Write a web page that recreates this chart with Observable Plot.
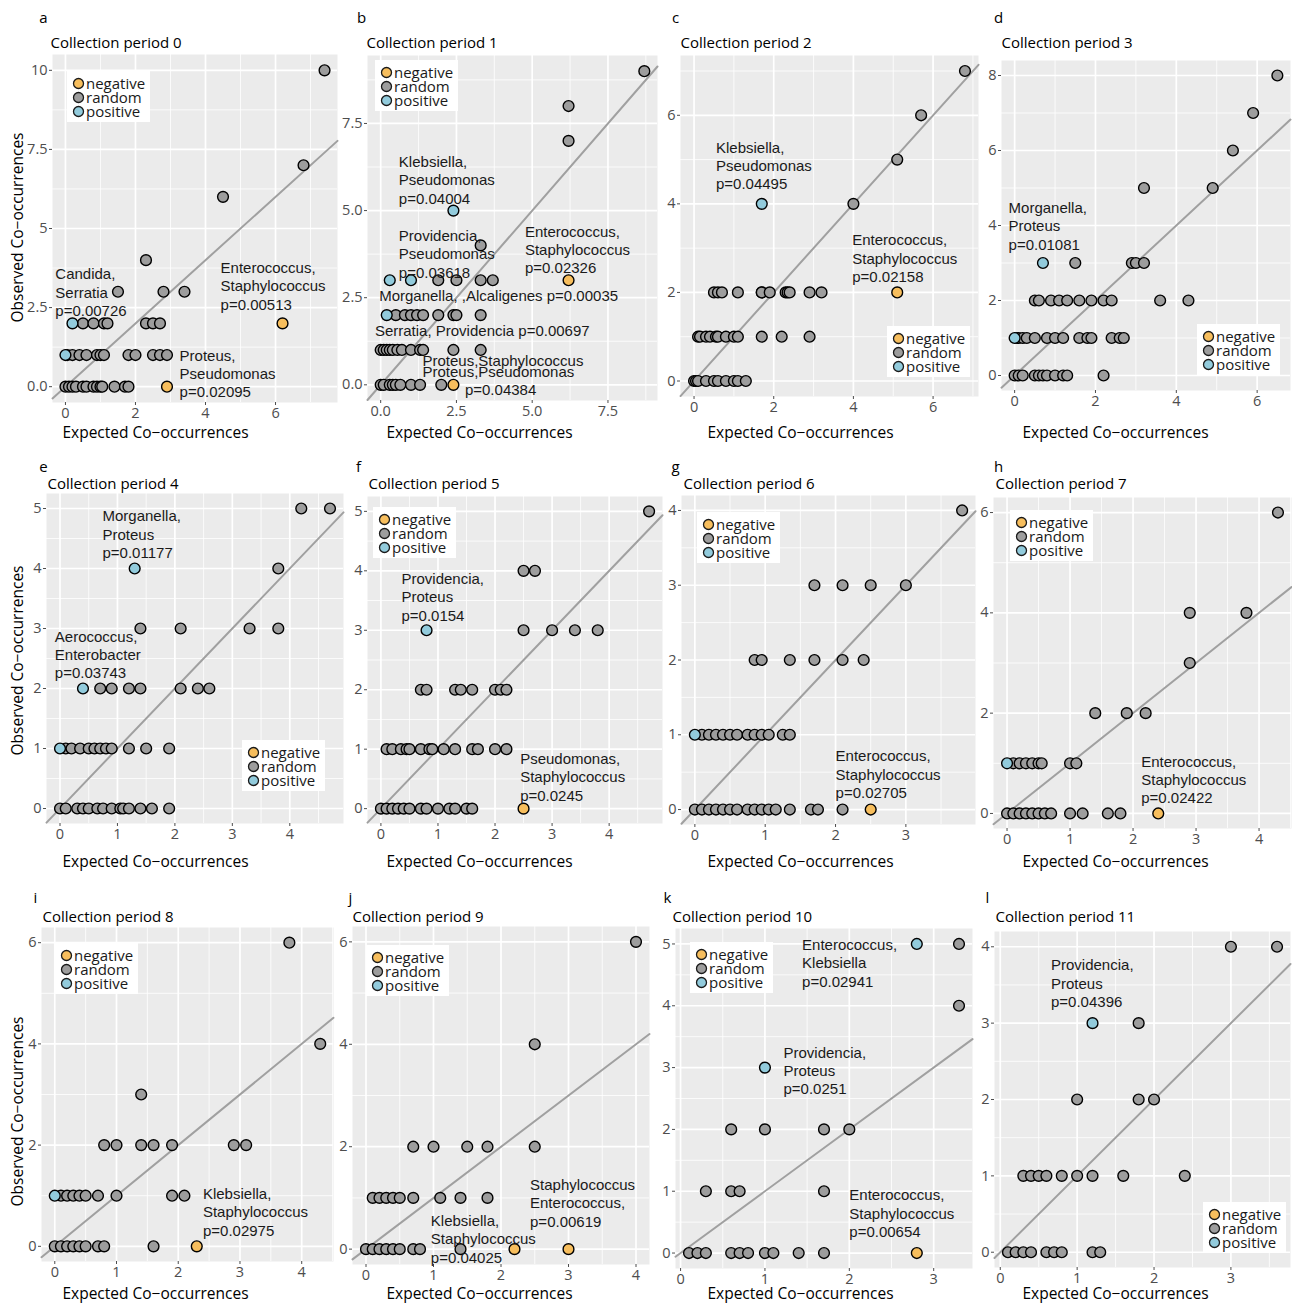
<!DOCTYPE html>
<html>
<head>
<meta charset="utf-8">
<script src="https://cdn.jsdelivr.net/npm/d3@7"></script>
<script src="https://cdn.jsdelivr.net/npm/@observablehq/plot@0.6"></script>
<style>
  html, body { margin: 0; padding: 0; background: #fff; }
  #chart { position: relative; width: 1292px; height: 1305px; overflow: hidden; font-family: "Open Sans", sans-serif; }
  .cell { position: absolute; }
  .cell svg { overflow: visible; }
  .key { position: absolute; background: #fff; box-sizing: border-box; padding-top: 5px;
         width: 83px; height: 51px; font-size: 15px; line-height: 14px; color: #1a1a1a; }
  .key div { height: 14px; display: flex; align-items: center; white-space: nowrap; }
  .key svg { margin-left: 5px; margin-right: 1px; flex: none; }
</style>
</head>
<body>
<div id="chart"></div>
<script>
// Observed vs expected co-occurrences of genus pairs, one panel per collection period.
// Each group: [observed, association (n = negative, r = random, p = positive), expected values]
const period0 = [
  [10, "r", [7.4]], [7, "r", [6.8]], [6, "r", [4.5]], [4, "r", [2.3]],
  [3, "r", [1.5, 2.8, 3.4]],
  [2, "r", [0.5, 0.8, 1.1, 1.2, 2.3, 2.5, 2.7]], [2, "p", [0.2]], [2, "n", [6.2]],
  [1, "r", [0.05, 0.2, 0.4, 0.6, 0.9, 1.0, 1.1, 1.8, 2.0, 2.5, 2.7, 2.9]], [1, "p", [0]],
  [0, "r", [0, 0.1, 0.2, 0.3, 0.5, 0.6, 0.8, 0.9, 1.0, 1.05, 1.4, 1.7, 1.8]], [0, "n", [2.9]]
];
const period1 = [
  [9, "r", [8.7]], [8, "r", [6.2]], [7, "r", [6.2]], [5, "p", [2.4]], [4, "r", [3.3]],
  [3, "r", [1.9, 2.5, 3.3, 3.7]], [3, "p", [0.3, 1.0]], [3, "n", [6.2]],
  [2, "r", [0.5, 0.8, 1.0, 1.2, 1.4, 1.9, 2.4, 2.5, 3.3]], [2, "p", [0.2]],
  [1, "r", [0, 0.1, 0.2, 0.3, 0.4, 0.55, 0.7, 1.0, 1.3, 1.4, 2.4, 3.3]],
  [0, "r", [0, 0.1, 0.3, 0.4, 0.5, 0.65, 1.0, 1.3, 2.0]], [0, "n", [2.4]]
];
const period2 = [
  [7, "r", [6.8]], [6, "r", [5.7]], [5, "r", [5.1]], [4, "r", [4.0]], [4, "p", [1.7]],
  [2, "r", [0.5, 0.6, 0.7, 1.1, 1.7, 1.7, 1.9, 2.3, 2.35, 2.4, 2.9, 3.2]], [2, "n", [5.1]],
  [1, "r", [0.1, 0.15, 0.3, 0.4, 0.55, 0.6, 0.8, 1.0, 1.1, 1.7, 2.2, 2.9]],
  [0, "r", [0, 0.05, 0.1, 0.3, 0.5, 0.6, 0.8, 1.0, 1.1, 1.3]]
];
const period3 = [
  [8, "r", [6.5]], [7, "r", [5.9]], [6, "r", [5.4]], [5, "r", [3.2, 4.9]],
  [3, "r", [1.5, 2.9, 3.0, 3.2]], [3, "p", [0.7]],
  [2, "r", [0.5, 0.6, 0.9, 1.1, 1.3, 1.6, 1.9, 2.2, 2.4, 3.6, 4.3]],
  [1, "r", [0.05, 0.1, 0.2, 0.3, 0.5, 0.8, 1.0, 1.2, 1.6, 1.8, 1.9, 2.4, 2.6, 2.7]], [1, "p", [0]],
  [0, "r", [0, 0.1, 0.2, 0.5, 0.6, 0.7, 0.8, 1.0, 1.2, 1.3, 2.2]]
];
const period4 = [
  [5, "r", [4.2, 4.7]], [4, "r", [3.8]], [4, "p", [1.3]],
  [3, "r", [1.4, 2.1, 3.3, 3.8]],
  [2, "r", [0.7, 0.9, 1.2, 1.4, 2.1, 2.4, 2.6]], [2, "p", [0.4]],
  [1, "r", [0.1, 0.2, 0.35, 0.5, 0.6, 0.7, 0.8, 0.9, 1.2, 1.5, 1.9]], [1, "p", [0]],
  [0, "r", [0, 0.1, 0.3, 0.4, 0.5, 0.65, 0.75, 0.9, 1.05, 1.1, 1.2, 1.4, 1.6, 1.9]]
];
const period5 = [
  [5, "r", [4.7]], [4, "r", [2.5, 2.7]],
  [3, "r", [2.5, 3.0, 3.4, 3.8]], [3, "p", [0.8]],
  [2, "r", [0.7, 0.8, 1.3, 1.4, 1.6, 2.0, 2.1, 2.2]],
  [1, "r", [0.1, 0.2, 0.35, 0.45, 0.5, 0.7, 0.85, 0.9, 1.1, 1.3, 1.6, 1.7, 2.0, 2.2]],
  [0, "r", [0, 0.1, 0.2, 0.3, 0.4, 0.5, 0.7, 0.8, 1.0, 1.2, 1.3, 1.5, 1.6]], [0, "n", [2.5]]
];
const period6 = [
  [4, "r", [3.8]], [3, "r", [1.7, 2.1, 2.5, 3.0]],
  [2, "r", [0.85, 0.95, 1.35, 1.7, 2.1, 2.4]],
  [1, "r", [0.1, 0.2, 0.3, 0.4, 0.5, 0.6, 0.75, 0.85, 0.95, 1.05, 1.25, 1.35]], [1, "p", [0]],
  [0, "r", [0, 0.1, 0.2, 0.3, 0.4, 0.5, 0.6, 0.75, 0.85, 0.95, 1.05, 1.15, 1.35, 1.65, 1.75, 2.1]], [0, "n", [2.5]]
];
const period7 = [
  [6, "r", [4.3]], [4, "r", [2.9, 3.8]], [3, "r", [2.9]], [2, "r", [1.4, 1.9, 2.2]],
  [1, "r", [0.1, 0.2, 0.3, 0.4, 0.5, 0.55, 1.0, 1.1]], [1, "p", [0]],
  [0, "r", [0, 0.1, 0.2, 0.3, 0.4, 0.5, 0.6, 0.7, 1.0, 1.2, 1.6, 1.8]], [0, "n", [2.4]]
];
const period8 = [
  [6, "r", [3.8]], [4, "r", [4.3]], [3, "r", [1.4]],
  [2, "r", [0.8, 1.0, 1.4, 1.6, 1.9, 2.9, 3.1]],
  [1, "r", [0.1, 0.2, 0.3, 0.4, 0.5, 0.7, 1.0, 1.9, 2.1]], [1, "p", [0]],
  [0, "r", [0, 0.1, 0.2, 0.3, 0.4, 0.5, 0.7, 0.8, 1.6]], [0, "n", [2.3]]
];
const period9 = [
  [6, "r", [4.0]], [4, "r", [2.5]], [2, "r", [0.7, 1.0, 1.5, 1.8, 2.5]],
  [1, "r", [0.1, 0.2, 0.3, 0.4, 0.5, 0.7, 1.1, 1.4, 1.8]],
  [0, "r", [0, 0.1, 0.2, 0.3, 0.4, 0.5, 0.7, 0.8, 1.4]], [0, "n", [2.2, 3.0]]
];
const period10 = [
  [5, "r", [3.3]], [5, "p", [2.8]], [4, "r", [3.3]], [3, "p", [1.0]],
  [2, "r", [0.6, 1.0, 1.7, 2.0]], [1, "r", [0.3, 0.6, 0.7, 1.7]],
  [0, "r", [0.1, 0.2, 0.3, 0.6, 0.7, 0.8, 1.0, 1.1, 1.4, 1.7]], [0, "n", [2.8]]
];
const period11 = [
  [4, "r", [3.0, 3.6]], [3, "r", [1.8]], [3, "p", [1.2]], [2, "r", [1.0, 1.8, 2.0]],
  [1, "r", [0.3, 0.4, 0.5, 0.6, 0.8, 1.0, 1.2, 1.6, 2.4]],
  [0, "r", [0.1, 0.2, 0.3, 0.4, 0.6, 0.7, 0.8, 1.2, 1.3]]
];

// Labelled significant pairs: [expected, observed (middle of the label), text]
const notes0 = [
  [-0.29, 3.0, "Candida,\nSerratia\np=0.00726"],
  [4.43, 3.2, "Enterococcus,\nStaphylococcus\np=0.00513"],
  [3.26, 0.43, "Proteus,\nPseudomonas\np=0.02095"]
];
const notes1 = [
  [0.6, 5.89, "Klebsiella,\nPseudomonas\np=0.04004"],
  [0.6, 3.77, "Providencia,\nPseudomonas\np=0.03618"],
  [4.76, 3.89, "Enterococcus,\nStaphylococcus\np=0.02326"],
  [-0.05, 2.57, "Morganella, ,Alcaligenes p=0.00035"],
  [-0.19, 1.57, "Serratia, Providencia p=0.00697"],
  [1.38, 0.71, "Proteus,Staphylococcus"],
  [1.38, 0.38, "Proteus,Pseudomonas"],
  [2.78, -0.12, "p=0.04384"]
];
const notes2 = [
  [0.55, 4.87, "Klebsiella,\nPseudomonas\np=0.04495"],
  [3.97, 2.78, "Enterococcus,\nStaphylococcus\np=0.02158"]
];
const notes3 = [[-0.15, 4.0, "Morganella,\nProteus\np=0.01081"]];
const notes4 = [
  [0.74, 4.58, "Morganella,\nProteus\np=0.01177"],
  [-0.09, 2.57, "Aerococcus,\nEnterobacter\np=0.03743"]
];
const notes5 = [
  [0.36, 3.57, "Providencia,\nProteus\np=0.0154"],
  [2.44, 0.54, "Pseudomonas,\nStaphylococcus\np=0.0245"]
];
const notes6 = [[2.0, 0.48, "Enterococcus,\nStaphylococcus\np=0.02705"]];
const notes7 = [[2.13, 0.68, "Enterococcus,\nStaphylococcus\np=0.02422"]];
const notes8 = [[2.4, 0.69, "Klebsiella,\nStaphylococcus\np=0.02975"]];
const notes9 = [
  [2.43, 0.91, "Staphylococcus\nEnterococcus,\np=0.00619"],
  [0.96, 0.21, "Klebsiella,\nStaphylococcus\np=0.04025"]
];
const notes10 = [
  [1.44, 4.7, "Enterococcus,\nKlebsiella\np=0.02941"],
  [1.22, 2.96, "Providencia,\nProteus\np=0.0251"],
  [2.0, 0.65, "Enterococcus,\nStaphylococcus\np=0.00654"]
];
const notes11 = [[0.66, 3.53, "Providencia,\nProteus\np=0.04396"]];

// Axis ticks and their labels
const ticksHalf = [0, 2.5, 5, 7.5];
const ticksHalfLabels = ["0.0", "2.5", "5.0", "7.5"];
const ticks0Y = [0, 2.5, 5, 7.5, 10];
const ticks0YLabels = ["0.0", "2.5", "5", "7.5", "10"];
const ticksEven6 = [0, 2, 4, 6];
const ticksEven8 = [0, 2, 4, 6, 8];
const ticksUnit3 = [0, 1, 2, 3];
const ticksUnit4 = [0, 1, 2, 3, 4];
const ticksUnit5 = [0, 1, 2, 3, 4, 5];

const kinds = ["negative", "random", "positive"];
const kindColors = ["#f7be5d", "#9d9d9d", "#92cbdc"];
const kindCode = {n: "negative", r: "random", p: "positive"};
const drawOrder = {random: 0, negative: 1, positive: 2};

const xTitle = "Expected Co\u2212occurrences";
const yTitle = "Observed Co\u2212occurrences";

// Page layout: rows and columns of panels
const rowTop = [4, 452, 884];
const letterY = [18, 467, 898];
const titleY = [43, 484, 917];
const xTitleY = [433, 862, 1294];
const xTitleX = [155, 479, 800, 1115];

const panels = [
  {letter: "a", title: "Collection period 0", data: period0, notes: notes0, xt: ticksEven6, yt: ticks0Y, ytl: ticks0YLabels,
   box: [52, 54, 337, 402], row: 0, col: 0, letterX: 43, titleX: 50, legend: [67, 71], yTitleY: 227},
  {letter: "b", title: "Collection period 1", data: period1, notes: notes1, xt: ticksHalf, xtl: ticksHalfLabels, yt: ticksHalf, ytl: ticksHalfLabels,
   box: [367, 55, 657, 400], row: 0, col: 1, letterX: 361, titleX: 366, legend: [375, 60]},
  {letter: "c", title: "Collection period 2", data: period2, notes: notes2, xt: ticksEven6, yt: ticksEven6,
   box: [680, 55, 978, 396], row: 0, col: 2, letterX: 675, titleX: 680, legend: [887, 326]},
  {letter: "d", title: "Collection period 3", data: period3, notes: notes3, xt: ticksEven6, yt: ticksEven8,
   box: [1001, 60, 1290, 390], row: 0, col: 3, letterX: 998, titleX: 1001, legend: [1197, 324]},
  {letter: "e", title: "Collection period 4", data: period4, notes: notes4, xt: ticksUnit4, yt: ticksUnit5,
   box: [46, 493, 343, 823], row: 1, col: 0, letterX: 43, titleX: 47, legend: [242, 740], yTitleY: 660},
  {letter: "f", title: "Collection period 5", data: period5, notes: notes5, xt: ticksUnit4, yt: ticksUnit5,
   box: [367, 496, 662, 823], row: 1, col: 1, letterX: 358, titleX: 368, legend: [373, 507]},
  {letter: "g", title: "Collection period 6", data: period6, notes: notes6, xt: ticksUnit3, yt: ticksUnit4,
   box: [681, 495, 975, 824], row: 1, col: 2, letterX: 675, titleX: 683, legend: [697, 512]},
  {letter: "h", title: "Collection period 7", data: period7, notes: notes7, xt: ticksUnit4, yt: ticksEven6,
   box: [993, 497, 1291, 828], row: 1, col: 3, letterX: 998, titleX: 995, legend: [1010, 510]},
  {letter: "i", title: "Collection period 8", data: period8, notes: notes8, xt: ticksUnit4, yt: ticksEven6,
   box: [41, 927, 333, 1261], row: 2, col: 0, letterX: 35, titleX: 42, legend: [55, 943], yTitleY: 1111},
  {letter: "j", title: "Collection period 9", data: period9, notes: notes9, xt: ticksUnit4, yt: ticksEven6,
   box: [352, 926, 649, 1264], row: 2, col: 1, letterX: 350, titleX: 352, legend: [366, 945]},
  {letter: "k", title: "Collection period 10", data: period10, notes: notes10, xt: ticksUnit3, yt: ticksUnit5,
   box: [675, 928, 972, 1268], row: 2, col: 2, letterX: 667, titleX: 672, legend: [690, 942]},
  {letter: "l", title: "Collection period 11", data: period11, notes: notes11, xt: ticksUnit3, yt: ticksUnit4,
   box: [994, 931, 1290, 1267], row: 2, col: 3, letterX: 987, titleX: 995, legend: [1203, 1202]}
];

const chart = document.getElementById("chart");

function flatten(groups) {
  return groups
    .flatMap(([observed, k, xs]) => xs.map(expected => ({expected, observed, kind: kindCode[k]})))
    .sort((a, b) => drawOrder[a.kind] - drawOrder[b.kind]);
}
function padded([lo, hi]) {
  const e = (hi - lo) * 0.05;
  return [lo - e, hi + e];
}
function minorBreaks(ticks, domain) {
  const s = ticks[1] - ticks[0];
  return [ticks[0] - s / 2, ...ticks.map(t => t + s / 2)].filter(v => v > domain[0] && v < domain[1]);
}
function labeller(ticks, labels) {
  return labels ? d => labels[ticks.indexOf(d)] : d => String(d);
}

for (const p of panels) {
  const rows = flatten(p.data);
  const xd = padded(d3.extent(rows, d => d.expected));
  const yd = padded(d3.extent(rows, d => d.observed));
  const [x0, y0, x1, y1] = p.box;
  const ML = 50, MR = 4;
  const top = rowTop[p.row];
  const mt = y0 - top;
  const mb = xTitleY[p.row] + 12 - y1;
  const width = ML + (x1 - x0) + MR;
  const height = mt + (y1 - y0) + mb;
  const lo = Math.max(xd[0], yd[0]), hi = Math.min(xd[1], yd[1]);

  const marks = [
    Plot.frame({fill: "#ebebeb", stroke: null}),
    Plot.ruleX(minorBreaks(p.xt, xd), {stroke: "#fff", strokeWidth: 0.8}),
    Plot.ruleY(minorBreaks(p.yt, yd), {stroke: "#fff", strokeWidth: 0.8}),
    Plot.ruleX(p.xt, {stroke: "#fff", strokeWidth: 1.7}),
    Plot.ruleY(p.yt, {stroke: "#fff", strokeWidth: 1.7}),
    Plot.axisX({ticks: p.xt, tickFormat: labeller(p.xt, p.xtl), tickSize: 3, tickPadding: 2,
                label: null, fontSize: 14.5, color: "#4d4d4d"}),
    Plot.axisY({ticks: p.yt, tickFormat: labeller(p.yt, p.ytl), tickSize: 3, tickPadding: 2,
                label: null, fontSize: 14.5, color: "#4d4d4d"}),
    Plot.line([lo, hi], {x: d => d, y: d => d, stroke: "#a0a0a0", strokeWidth: 2}),
    Plot.dot(rows, {x: "expected", y: "observed", fill: "kind", r: 5.4, stroke: "#000", strokeWidth: 1.4}),
    Plot.text(p.notes, {x: d => d[0], y: d => d[1], text: d => d[2], textAnchor: "start", lineAnchor: "middle",
                        lineHeight: 1.22, fontSize: 15, fontFamily: "'Liberation Sans', Arial, sans-serif", fill: "#1a1a1a"}),
    Plot.text([p.title], {frameAnchor: "top-left", dx: p.titleX - x0, dy: titleY[p.row] - y0, text: d => d,
                          textAnchor: "start", lineAnchor: "middle", fontSize: 15, fill: "#000"}),
    Plot.text([p.letter], {frameAnchor: "top-left", dx: p.letterX - x0, dy: letterY[p.row] - y0, text: d => d,
                           textAnchor: "middle", lineAnchor: "middle", fontSize: 15, fill: "#000"}),
    Plot.text([xTitle], {frameAnchor: "bottom-left", dx: xTitleX[p.col] - x0, dy: xTitleY[p.row] - y1, text: d => d,
                         textAnchor: "middle", lineAnchor: "middle", fontSize: 15.5, fill: "#000"})
  ];
  if (p.yTitleY != null) {
    marks.push(Plot.text([yTitle], {frameAnchor: "top-left", dx: 18 - x0, dy: p.yTitleY - y0, text: d => d, rotate: -90,
                                    textAnchor: "middle", lineAnchor: "middle", fontSize: 15.5, fill: "#000"}));
  }

  const svg = Plot.plot({
    width, height,
    marginLeft: ML, marginRight: MR, marginTop: mt, marginBottom: mb,
    x: {domain: xd},
    y: {domain: yd},
    color: {domain: kinds, range: kindColors},
    style: {background: "transparent", overflow: "visible", fontFamily: "'Open Sans', sans-serif"},
    marks
  });

  const cell = document.createElement("div");
  cell.className = "cell";
  cell.style.left = (x0 - ML) + "px";
  cell.style.top = top + "px";
  cell.style.width = width + "px";
  cell.style.height = height + "px";
  cell.appendChild(svg);
  chart.appendChild(cell);

  // Association key
  const key = document.createElement("div");
  key.className = "key";
  key.style.left = p.legend[0] + "px";
  key.style.top = p.legend[1] + "px";
  kinds.forEach((k, i) => {
    const row = document.createElement("div");
    row.innerHTML = `<svg width="13" height="13"><circle cx="6.5" cy="6.5" r="5" fill="${kindColors[i]}" stroke="#1a1a1a" stroke-width="1.3"></circle></svg><span>${k}</span>`;
    key.appendChild(row);
  });
  chart.appendChild(key);
}
</script>
</body>
</html>
